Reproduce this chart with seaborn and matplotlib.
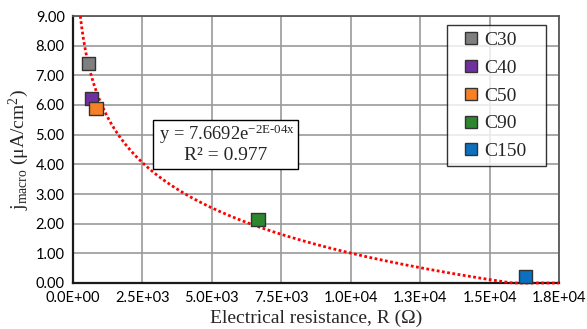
import numpy as np
import pandas as pd
import matplotlib
matplotlib.use("Agg")
import matplotlib.pyplot as plt
import matplotlib.patches as mpatches
import seaborn as sns

# ---- data ----
labels = ["C30", "C40", "C50", "C90", "C150"]
resistance = [549, 670, 825, 6660, 16300]          # Ohm
j_macro = [7.40, 6.21, 5.88, 2.13, 0.23]            # uA/cm2
colors = ["#7F7F7F", "#7030A0", "#F58025", "#2E862E", "#0B70C0"]

# trendline as drawn (logarithmic shape, clipped at the axis)
trend_a = 21.27
trend_b = -2.20
eq_text = r"$\mathrm{y\,=\,7.6692e^{-2E\text{-}04x}}$"
r2_text = "R² = 0.977"

xticks = [0, 2500, 5000, 7500, 10000, 12500, 15000, 17500]
xticklabels = ["0.0E+00", "2.5E+03", "5.0E+03", "7.5E+03", "1.0E+04",
               "1.3E+04", "1.5E+04", "1.8E+04"]
yticks = [0, 1, 2, 3, 4, 5, 6, 7, 8, 9]
yticklabels = ["%.2f" % v for v in yticks]

sns.set_theme(style="white")
plt.rcParams["font.family"] = ["Lato", "DejaVu Sans"]
plt.rcParams["mathtext.fontset"] = "custom"
plt.rcParams["mathtext.rm"] = "Liberation Serif"
plt.rcParams["mathtext.it"] = "Liberation Serif:italic"
plt.rcParams["mathtext.bf"] = "Liberation Serif:bold"

W, H = 587, 329
fig = plt.figure(figsize=(W / 100, H / 100), dpi=100)
L, R, T, B = 73, 559, 16, 283
ax = fig.add_axes([L / W, 1 - B / H, (R - L) / W, (B - T) / H])

df = pd.DataFrame({"R": resistance, "j": j_macro, "label": labels})
pal = dict(zip(labels, colors))

# trend curve
x0 = np.exp((9.0 - trend_a) / trend_b)
xs = np.geomspace(x0, 17500, 400)
ys = np.clip(trend_a + trend_b * np.log(xs), 0, None)
sns.lineplot(x=xs, y=ys, ax=ax, color="#FF0000", lw=2.0,
             linestyle=(0, (1, 0.9)), zorder=4, clip_on=False)

sns.scatterplot(data=df, x="R", y="j", hue="label", palette=pal,
                hue_order=labels, marker="s", s=92, edgecolor="#333333",
                linewidth=1.0, ax=ax, zorder=5, clip_on=False, legend=True)

ax.set_xlim(0, 17500)
ax.set_ylim(0, 9)
ax.set_xticks(xticks)
ax.set_xticklabels(xticklabels)
ax.set_yticks(yticks)
ax.set_yticklabels(yticklabels)
ax.tick_params(axis="both", length=0, labelsize=10.5, colors="#000000", pad=6)
ax.grid(True, color="#9A9A9A", lw=1.2)
ax.set_axisbelow(True)
for side in ["left", "bottom"]:
    ax.spines[side].set_color("#1A1A1A")
    ax.spines[side].set_linewidth(1.6)
for side in ["top", "right"]:
    ax.spines[side].set_color("#595959")
    ax.spines[side].set_linewidth(1.3)

ax.set_xlabel("Electrical resistance, R (Ω)", family="Liberation Serif",
              fontsize=14, labelpad=3)
ax.set_ylabel(r"$\mathrm{j_{macro}\ (\mu A/cm^{2})}$", fontsize=14, labelpad=3)

# legend
handles, hl = ax.get_legend_handles_labels()
leg = ax.legend(handles, hl, loc="upper left",
                bbox_to_anchor=(0.769, 0.965, 0.204, 0.0),
                mode="expand", frameon=True, fancybox=False,
                prop={"family": "Liberation Serif", "size": 14},
                labelspacing=0.52, handletextpad=-0.3, borderpad=0.32,
                handlelength=1.9, markerscale=0.95, borderaxespad=0)
leg.get_frame().set_edgecolor("#000000")
leg.get_frame().set_linewidth(1.0)
leg.set_zorder(10)
for t in leg.get_texts():
    t.set_ha("left")

# equation box
bx0, bx1, by0, by1 = 153, 298, 120, 169
def to_ax(px, py):
    return (px - L) / (R - L), (B - py) / (B - T)
ax0, ay1 = to_ax(bx0, by0)
ax1, ay0 = to_ax(bx1, by1)
rect = mpatches.Rectangle((ax0, ay0), ax1 - ax0, ay1 - ay0,
                          transform=ax.transAxes, facecolor="white",
                          edgecolor="#000000", lw=1.0, zorder=8)
ax.add_patch(rect)
cx = (ax0 + ax1) / 2
ax.text(cx + 0.003, ay0 + (ay1 - ay0) * 0.71, eq_text, transform=ax.transAxes,
        ha="center", va="center", fontsize=13.3, zorder=9)
ax.text(cx, ay0 + (ay1 - ay0) * 0.27, r2_text, transform=ax.transAxes,
        ha="center", va="center", fontsize=14, family="Liberation Serif",
        zorder=9)

fig.savefig("out.png", dpi=100)
